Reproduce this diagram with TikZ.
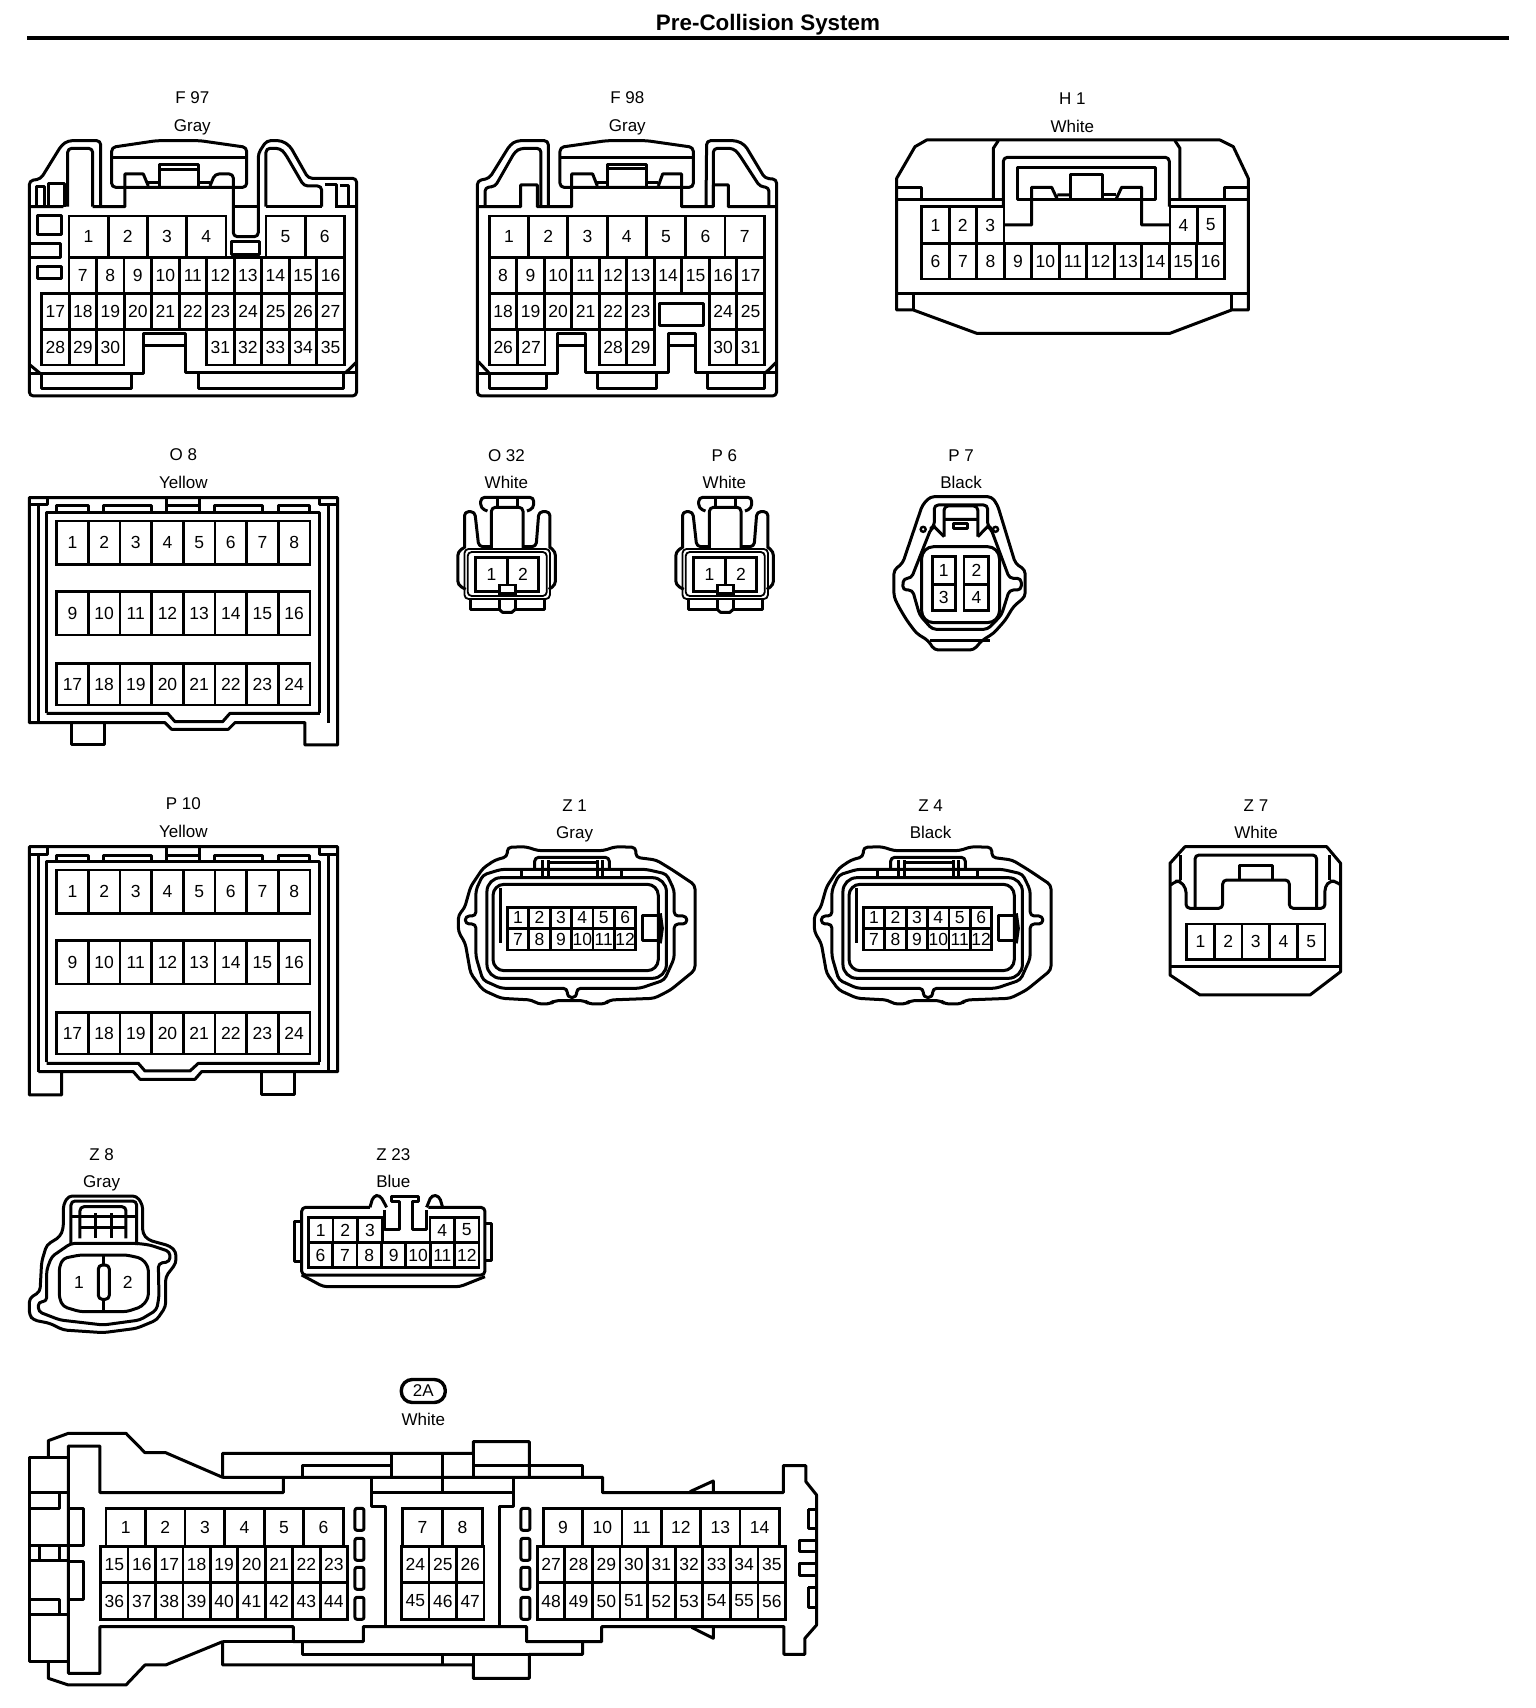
\documentclass[tikz,border=0pt]{standalone}
\usepackage{fontspec}
\setmainfont{Liberation Sans}
\usetikzlibrary{positioning}

\tikzset{
  conn/.style={line width=3pt,line join=round},
  soft/.style={conn,rounded corners=4pt},
  pinbox/.style={line width=2.8pt},
  pinno/.style={inner sep=0pt,font=\fontsize{17.5}{20}\selectfont},
  tag/.style={inner sep=0pt,text height=12.5pt,text depth=0pt,font=\fontsize{17}{20}\selectfont},
  crop/.style 2 args={shift={(#1,#2)},x=0.3333pt,y=-0.3333pt}
}

% row of pins: left, right, count, top, bottom, first number
\newcommand{\pinrow}[6]{%
  \pgfmathsetmacro\cellw{(#2-#1)/#3}%
  \foreach \k in {1,...,#3}{%
    \pgfmathtruncatemacro\pinnum{#6+\k-1}%
    \draw[pinbox] ({#1+(\k-1)*\cellw},#4) rectangle ({#1+\k*\cellw},#5);
    \node[pinno] (\cname-\pinnum) at ({#1+(\k-.5)*\cellw},{(#4+#5)/2}) {\pinnum};
  }%
}
\newcommand{\labels}[4]{%
  \node[tag] (\cname-id) at (#1,#2) {#3};
  \node[tag] (\cname-col) at (#1,#2+83) {#4};
}

% top and pins of the two yellow connectors
\newcommand{\yellowbody}{%
  \draw[conn] (88,225) -- (142,225) -- (142,205) (958,205) -- (958,225) -- (1013,225);
  \draw[conn] (115,225) -- (115,878) (985,225) -- (985,878);
  \draw[conn] (140,850) -- (140,248) -- (960,248) -- (960,850);
  \draw[conn] (170,248) -- (170,228) -- (265,228) -- (265,248);
  \draw[conn] (310,248) -- (310,228) -- (455,228) -- (455,248);
  \draw[conn] (500,205) -- (500,248) (598,205) -- (598,248) (500,228) -- (598,228);
  \draw[conn] (645,248) -- (645,228) -- (788,228) -- (788,248);
  \draw[conn] (835,248) -- (835,228) -- (930,228) -- (930,248);
  \pinrow{170}{930}{8}{273}{403}{1}
  \pinrow{170}{930}{8}{485}{615}{9}
  \pinrow{170}{930}{8}{700}{825}{17}
}

% small two pin connector
\newcommand{\twinbody}{%
  \draw[soft] (120,243) -- (103,235) -- (103,202) -- (237,202) -- (237,235) -- (220,243);
  \draw[conn] (145,205) -- (145,232) (195,205) -- (195,232);
  \draw[soft] (130,355) -- (130,232) -- (210,232) -- (210,355);
  \draw[soft] (62,355) -- (62,245) -- (88,245) -- (98,350) -- (130,350);
  \draw[soft] (278,355) -- (278,245) -- (250,245) -- (243,350) -- (210,350);
  \draw[soft,line width=1.8pt] (62,357) -- (278,357) -- (278,507) -- (62,507) -- cycle;
  \draw[soft,line width=1.8pt] (70,366) -- (270,366) -- (270,498) -- (70,498) -- cycle;
  \draw[soft] (62,352) -- (45,365) -- (45,465) -- (65,478);
  \draw[soft] (278,352) -- (292,365) -- (292,465) -- (275,478);
  \pinrow{90}{250}{2}{382}{485}{1}
  \draw[pinbox,fill=white] (150,465) rectangle (190,490);
  \draw[conn] (78,507) -- (78,538) -- (150,538) -- (150,507);
  \draw[conn] (190,507) -- (190,538) -- (265,538) -- (265,507);
  \draw[conn] (150,538) -- (158,547) -- (182,547) -- (190,538);
}

% oval twelve pin connector
\newcommand{\ovalbody}{%
  \draw[soft] (165,230) -- (165,202) -- (210,200) -- (240,212) -- (400,212) -- (430,200) -- (480,202) -- (480,232)
    -- (530,240) -- (570,270) -- (625,315) -- (625,570) -- (565,630) -- (525,655) -- (415,660) -- (405,672) -- (365,672)
    -- (355,662) -- (280,662) -- (270,672) -- (240,672) -- (225,660) -- (150,655) -- (105,630) -- (75,580) -- (62,490)
    -- (45,455) -- (45,405) -- (60,385) -- (75,320) -- (105,265) -- (135,240) -- cycle;
  \draw[soft] (62,408) -- (88,408) -- (88,330) -- (105,285) -- (150,268) -- (505,268) -- (555,282) -- (574,330) -- (574,408)
    -- (605,408) -- (605,432) -- (574,432) -- (574,535) -- (550,600) -- (490,625) -- (335,625) -- (335,652) -- (312,652)
    -- (312,625) -- (150,625) -- (105,600) -- (88,530) -- (88,432) -- (62,432) -- cycle;
  \draw[conn,rounded corners=14pt] (115,293) rectangle (555,595);
  \draw[conn,rounded corners=11pt] (130,313) rectangle (535,572);
  \draw[conn] (148,325) -- (148,490);
  \draw[conn] (200,293) -- (200,268) (445,293) -- (445,268);
  \draw[soft] (232,268) -- (232,232) -- (415,232) -- (415,268);
  \draw[conn] (250,293) -- (250,240) (265,293) -- (265,240) (385,293) -- (385,240) (398,293) -- (398,240);
  \draw[conn] (265,247) -- (385,247);
  \pinrow{165}{480}{6}{382}{445}{1}
  \pinrow{165}{480}{6}{445}{510}{7}
  \draw[conn] (497,408) rectangle (540,482);
  \draw[conn] (540,400) -- (545,445) -- (540,490);
}

\begin{document}
\begin{tikzpicture}[x=1pt,y=-1pt]
  \useasboundingbox (0,0) rectangle (1536,1708);

  \node[inner sep=0pt,font=\bfseries\fontsize{22.4}{26}\selectfont] (title) at (768,24.5) {Pre-Collision System};
  \coordinate (ruleL) at (27,38);
  \coordinate (ruleR) at (1509,38);
  \draw[line width=3.6pt] (ruleL) -- (ruleR);

  % F 97
  \begin{scope}[crop={0}{60}]
    \def\cname{F97}
    \labels{577}{113}{F 97}{Gray}
    \draw[soft] (302,440) -- (302,242) -- (205,242) -- (185,255) -- (122,357) -- (88,362) -- (88,1008) -- (1070,1008)
      -- (1070,355) -- (925,355) -- (870,258) -- (845,242) -- (800,242) -- (775,280) -- (775,530) -- (700,530) -- (700,342)
      -- (645,342) -- (630,378);
    \draw[soft] (278,440) -- (278,265) -- (203,265) -- (203,440);
    \draw[conn] (90,440) -- (190,440) (278,440) -- (375,440) -- (375,342) -- (430,342) -- (445,378);
    \draw[conn] (110,440) -- (110,380) -- (135,380) -- (135,440) (145,440) -- (145,372) -- (195,372) -- (195,440);
    \draw[soft] (335,382) -- (335,262) -- (470,242) -- (600,242) -- (740,262) -- (740,382) -- cycle;
    \draw[conn] (335,292) -- (740,292) (445,368) -- (480,368) (595,368) -- (630,368);
    \draw[conn] (480,382) -- (480,315) -- (595,315) -- (595,382) (480,328) -- (595,328);
    \draw[conn] (700,440) -- (775,440);
    \draw[soft] (798,440) -- (798,265) -- (840,265) -- (855,280) -- (912,378) -- (965,378) -- (965,440);
    \draw[conn] (798,440) -- (965,440) (1005,440) -- (1070,440);
    \draw[conn] (975,375) -- (1010,375) -- (1010,440) (1020,378) -- (1045,378) -- (1045,440);
    \draw[conn] (112,468) rectangle (185,525) (695,545) rectangle (780,583) (112,620) rectangle (185,655);
    \draw[conn] (90,550) -- (183,550) -- (183,592) -- (90,592);
    \pinrow{207}{678}{4}{468}{592}{1}
    \pinrow{798}{1033}{2}{468}{592}{5}
    \pinrow{207}{1033}{10}{592}{700}{7}
    \pinrow{125}{1033}{11}{700}{808}{17}
    \pinrow{125}{372}{3}{808}{915}{28}
    \pinrow{620}{1033}{5}{808}{915}{31}
    \draw[conn] (90,915) -- (120,940) (1035,940) -- (1068,908);
    \draw[conn] (88,940) -- (430,940) -- (430,820) -- (558,820) -- (558,938) -- (1070,938) (430,858) -- (558,858);
    \draw[conn] (125,940) -- (125,985) -- (395,985) -- (395,940) (595,940) -- (595,985) -- (1032,985) -- (1032,940);
  \end{scope}

  % F 98
  \begin{scope}[crop={450}{60}]
    \def\cname{F98}
    \labels{532}{113}{F 98}{Gray}
    \draw[soft] (295,440) -- (295,242) -- (200,242) -- (180,255) -- (118,355) -- (82,362) -- (82,1008) -- (980,1008)
      -- (980,358) -- (945,355) -- (885,255) -- (860,242) -- (770,242) -- (768,440);
    \draw[soft] (273,440) -- (273,265) -- (212,265) -- (195,275) -- (135,380) -- (105,382) -- (105,440);
    \draw[soft] (790,440) -- (790,265) -- (850,265) -- (865,280) -- (930,380) -- (957,382) -- (957,440);
    \draw[conn] (82,440) -- (212,440) -- (212,375) -- (262,375) -- (262,440) -- (365,440) -- (365,342) -- (428,342) -- (442,378);
    \draw[soft] (330,382) -- (330,262) -- (470,242) -- (590,242) -- (730,262) -- (730,382) -- cycle;
    \draw[conn] (330,292) -- (730,292) (442,368) -- (472,368) (590,368) -- (625,368);
    \draw[conn] (472,382) -- (472,315) -- (590,315) -- (590,382) (472,325) -- (590,325);
    \draw[conn] (625,378) -- (638,342) -- (695,342) -- (695,440) -- (790,440) -- (790,375) -- (835,375) -- (835,440) -- (980,440);
    \pinrow{118}{943}{7}{468}{592}{1}
    \pinrow{118}{943}{10}{592}{700}{8}
    \pinrow{118}{613}{6}{700}{808}{18}
    \pinrow{778}{943}{2}{700}{808}{24}
    \pinrow{118}{285}{2}{808}{915}{26}
    \pinrow{448}{613}{2}{808}{915}{28}
    \pinrow{778}{943}{2}{808}{915}{30}
    \draw[conn] (628,730) rectangle (762,798);
    \draw[conn] (85,905) -- (118,940) (945,940) -- (978,908);
    \draw[conn] (82,940) -- (322,940) -- (322,820) -- (408,820) -- (408,938) -- (655,938) -- (655,820) -- (738,820) -- (738,938) -- (980,938);
    \draw[conn] (322,858) -- (408,858) (655,858) -- (738,858);
    \draw[conn] (118,940) -- (118,985) -- (290,985) -- (290,940) (442,940) -- (442,985) -- (620,985) -- (620,940);
    \draw[conn] (772,940) -- (772,985) -- (945,985) -- (945,940);
  \end{scope}

  % H 1
  \begin{scope}[crop={880}{80}]
    \def\cname{H1}
    \labels{577}{55}{H 1}{White}
    \draw[conn] (50,690) -- (50,295) -- (105,200) -- (140,180) -- (1020,180) -- (1060,200) -- (1105,295) -- (1105,690)
      -- (1055,690) -- (870,760) -- (290,760) -- (100,690) -- cycle;
    \draw[conn] (50,640) -- (1105,640) (100,640) -- (100,690) (1055,640) -- (1055,690);
    \draw[conn] (50,358) -- (370,358) (870,358) -- (1105,358);
    \draw[conn] (50,322) -- (125,322) -- (125,358) (1035,358) -- (1035,322) -- (1105,322);
    \draw[conn] (340,358) -- (340,205) -- (355,182) (900,358) -- (900,205) -- (885,182);
    \draw[soft] (370,380) -- (370,232) -- (868,232) -- (868,380);
    \draw[conn] (412,358) -- (412,262) -- (828,262) -- (828,358) -- cycle;
    \draw[conn] (370,435) -- (455,435) -- (455,322) -- (515,322) -- (532,358) (532,345) -- (572,345);
    \draw[conn] (572,358) -- (572,285) -- (668,285) -- (668,358) (668,345) -- (708,345);
    \draw[conn] (708,358) -- (725,322) -- (785,322) -- (785,435) -- (868,435);
    \pinrow{125}{372}{3}{380}{490}{1}
    \pinrow{870}{1033}{2}{380}{490}{4}
    \pinrow{125}{1033}{11}{490}{597}{6}
  \end{scope}

  % O 8
  \begin{scope}[crop={0}{430}]
    \def\cname{O8}
    \labels{550}{73}{O 8}{Yellow}
    \draw[conn] (88,878) -- (88,203) -- (1013,203) -- (1013,945) -- (915,945) -- (915,878) -- (705,878) -- (685,898)
      -- (515,898) -- (495,878) -- cycle;
    \draw[conn] (215,878) -- (215,945) -- (315,945) -- (315,878);
    \draw[conn] (140,850) -- (503,850) -- (525,875) -- (668,875) -- (690,850) -- (960,850);
    \yellowbody
  \end{scope}

  % P 10
  \begin{scope}[crop={0}{779}]
    \def\cname{P10}
    \labels{550}{74}{P 10}{Yellow}
    \draw[conn] (115,878) -- (400,878) -- (420,901) -- (585,901) -- (605,878) -- (1013,878) -- (1013,203) -- (88,203)
      -- (88,948) -- (185,948) -- (185,878);
    \draw[conn] (785,878) -- (785,948) -- (885,948) -- (885,878);
    \draw[conn] (140,853) -- (415,853) -- (435,876) -- (570,876) -- (595,853) -- (960,853);
    \yellowbody
  \end{scope}

  % O 32 and P 6
  \begin{scope}[crop={440}{430},x=0.3954pt]
    \def\cname{O32}
    \labels{168}{75}{O 32}{White}
    \twinbody
  \end{scope}
  \begin{scope}[crop={658}{430},x=0.3954pt]
    \def\cname{P6}
    \labels{168}{75}{P 6}{White}
    \twinbody
  \end{scope}

  % P 7
  \begin{scope}[crop={440}{430},x=0.3954pt]
    \def\cname{P7}
    \labels{1318}{75}{P 7}{Black}
    \draw[soft] (1240,200) -- (1395,200) -- (1410,225) -- (1455,400) -- (1480,420) -- (1480,500) -- (1450,530) -- (1430,570)
      -- (1400,610) -- (1370,632) -- (1350,660) -- (1250,660) -- (1235,632) -- (1205,610) -- (1180,570) -- (1160,530)
      -- (1148,500) -- (1148,420) -- (1170,400) -- (1220,225) -- cycle;
    \draw[soft] (1172,445) -- (1192,445) -- (1242,295) -- (1250,290) -- (1250,225) -- (1385,225) -- (1385,290) -- (1393,295)
      -- (1440,445) -- (1470,445) -- (1470,480) -- (1440,480) -- (1420,555) -- (1385,598) -- (1245,598) -- (1213,555)
      -- (1195,480) -- (1170,480) -- cycle;
    \draw[conn,fill=white,rounded corners=12pt] (1218,350) rectangle (1415,578);
    \draw[soft] (1275,320) -- (1275,228) -- (1360,228) -- (1360,320);
    \draw[conn] (1250,290) -- (1275,320) (1385,290) -- (1360,320) (1275,268) -- (1360,268);
    \draw[conn] (1298,295) -- (1298,280) -- (1335,280) -- (1335,295) -- cycle;
    \draw[line width=2.4pt] (1222,298) circle (2.5pt) (1405,298) circle (2.5pt);
    \draw[conn] (1240,632) -- (1390,632);
    \pinrow{1245}{1303}{1}{380}{463}{1}
    \pinrow{1325}{1388}{1}{380}{463}{2}
    \pinrow{1245}{1303}{1}{463}{542}{3}
    \pinrow{1325}{1388}{1}{463}{542}{4}
  \end{scope}

  % Z 1 and Z 4
  \begin{scope}[crop={440}{780},x=0.408pt]
    \def\cname{Z1}
    \labels{330}{75}{Z 1}{Gray}
    \ovalbody
  \end{scope}
  \begin{scope}[crop={796}{780},x=0.408pt]
    \def\cname{Z4}
    \labels{330}{75}{Z 4}{Black}
    \ovalbody
  \end{scope}

  % Z 7
  \begin{scope}[crop={1150}{780}]
    \def\cname{Z7}
    \labels{318}{75}{Z 7}{White}
    \draw[conn] (60,565) -- (60,250) -- (105,200) -- (530,200) -- (572,250) -- (572,575) -- (480,645) -- (150,645) -- (60,585) -- cycle;
    \draw[conn] (60,560) -- (572,560) (92,225) -- (92,300) (540,225) -- (540,300);
    \draw[soft] (62,315) -- (78,303) -- (90,303) -- (108,325) -- (108,385) -- (218,385) -- (218,300) -- (418,300) -- (418,385) -- (525,385) -- (525,320) -- (540,303) -- (555,303) -- (572,315);
    \draw[soft] (135,385) -- (135,225) -- (500,225) -- (500,385);
    \draw[conn] (268,300) -- (268,255) -- (368,255) -- (368,300);
    \pinrow{110}{525}{5}{432}{538}{1}
  \end{scope}

  % Z 8
  \begin{scope}[crop={0}{1130}]
    \def\cname{Z8}
    \labels{305}{72}{Z 8}{Gray}
    \draw[soft] (190,225) -- (205,198) -- (410,198) -- (428,225) -- (428,310) -- (445,330) -- (510,348) -- (528,365) -- (528,400)
      -- (497,440) -- (497,530) -- (470,570) -- (410,595) -- (310,608) -- (190,600) -- (150,580) -- (100,570) -- (88,555) -- (88,505)
      -- (120,485) -- (125,395) -- (140,345) -- (180,320) -- (190,295) -- cycle;
    \draw[soft] (140,515) -- (115,515) -- (115,545) -- (180,570) -- (310,585) -- (420,570) -- (470,540) -- (477,500) -- (475,400)
      -- (510,395) -- (510,365) -- (450,345) -- (410,340) -- (213,340) -- (155,380) -- (140,420) -- cycle;
    \draw[soft] (213,345) -- (213,213) -- (410,213) -- (410,345);
    \draw[soft] (240,325) -- (240,230) -- (378,230) -- (378,325);
    \draw[conn] (213,258) -- (410,258) (240,292) -- (378,292) (287,250) -- (287,325) (335,250) -- (335,325);
    \draw[soft] (178,410) -- (190,385) -- (240,375) -- (380,375) -- (425,385) -- (445,410) -- (445,505) -- (425,530) -- (380,545)
      -- (240,545) -- (190,530) -- (178,505) -- cycle;
    \draw[soft] (295,405) rectangle (328,508);
    \draw[conn] (312,375) -- (312,405) (312,508) -- (312,545);
    \node[pinno] (Z8-1) at (237,457) {1};
    \node[pinno] (Z8-2) at (383,457) {2};

    % Z 23
    \def\cname{Z23}
    \labels{1180}{72}{Z 23}{Blue}
    \draw[soft] (1110,232) -- (905,232) -- (905,435) -- (1455,435) -- (1455,232) -- (1285,232);
    \draw[soft] (1110,232) -- (1120,198) -- (1140,195) -- (1160,232);
    \draw[soft] (1280,232) -- (1295,195) -- (1318,198) -- (1328,232);
    \draw[conn] (1155,240) -- (1155,298) -- (1198,298) -- (1198,213) -- (1175,213) -- (1175,198) -- (1255,198) -- (1255,213) -- (1238,213) -- (1238,298) -- (1280,298) -- (1280,240);
    \draw[soft] (905,435) -- (970,470) -- (1380,470) -- (1455,440);
    \draw[conn] (900,275) -- (885,275) -- (885,395) -- (900,395) (1458,280) -- (1475,280) -- (1475,392) -- (1458,392);
    \pinrow{925}{1147}{3}{262}{338}{1}
    \pinrow{1290}{1437}{2}{262}{338}{4}
    \pinrow{925}{1437}{7}{338}{412}{6}
  \end{scope}

  % 2A
  \begin{scope}[crop={0}{1370}]
    \def\cname{C2A}
    \node[inner sep=0pt,font=\fontsize{17}{20}\selectfont,draw,line width=3.4pt,rounded corners=11pt,minimum width=44pt,minimum height=23pt] (C2A-id) at (1270,63) {2A};
    \node[tag] (C2A-col) at (1270,148) {White};
    \draw[conn] (205,262) -- (88,262) -- (88,875) -- (205,875) (88,368) -- (205,368);
    \draw[conn] (88,415) -- (180,415) -- (180,372) (88,525) -- (205,525) (88,572) -- (205,572);
    \draw[conn] (118,530) -- (118,570) (180,530) -- (180,570);
    \draw[conn] (205,415) -- (252,415) -- (252,525) -- (205,525) (205,575) -- (252,575) -- (252,688) -- (205,688);
    \draw[conn] (88,690) -- (180,690) -- (180,735) (88,735) -- (205,735);
    \draw[conn] (145,262) -- (145,212) -- (205,190) -- (378,190) -- (435,248) -- (497,248) -- (668,322) -- (668,250) -- (1420,250)
      -- (1420,215) -- (1588,215) -- (1588,320);
    \draw[conn] (1420,250) -- (1420,320) (1175,320) -- (1175,250) (1328,250) -- (1328,365);
    \draw[conn] (908,320) -- (908,287) -- (1175,287) (1420,287) -- (1748,287) -- (1748,320);
    \draw[conn] (668,322) -- (1808,322) -- (1808,368) -- (2350,368) -- (2350,287) -- (2418,287) -- (2418,335) -- (2450,375)
      -- (2450,765) -- (2415,805) -- (2415,853) -- (2352,853) -- (2352,770) -- (1805,770) -- (1805,815) -- (1580,815) -- (1580,770)
      -- (1090,770) -- (1090,815) -- (880,815) -- (880,770) -- (300,770) -- (300,910) -- (205,910) -- (205,228) -- (300,228)
      -- (300,368) -- (850,368) -- (850,322);
    \draw[conn] (145,875) -- (145,925) -- (205,945) -- (378,945) -- (435,885) -- (497,885) -- (668,815) -- (668,885) -- (1420,885)
      -- (1420,925) -- (1588,925) -- (1588,853) -- (1748,853) -- (1748,815);
    \draw[conn] (668,815) -- (880,815) (908,815) -- (908,853) -- (1588,853) (1420,853) -- (1420,885) (1328,855) -- (1328,885);
    \draw[conn] (1115,322) -- (1115,410) -- (1158,410) -- (1158,770) (1115,368) -- (1540,368);
    \draw[conn] (1540,322) -- (1540,410) -- (1498,410) -- (1498,770);
    \foreach \xa in {1065,1563}{
      \foreach \ya in {415,505,592,682}{
        \draw[conn,rounded corners=2pt] (\xa,\ya) rectangle ++(27,66);
      }
    }
    \draw[conn] (2425,418) -- (2425,475) -- (2445,475) (2425,418) -- (2445,418);
    \draw[conn] (2445,512) -- (2400,512) -- (2400,545) -- (2445,545) (2445,582) -- (2400,582) -- (2400,618) -- (2445,618);
    \draw[conn] (2425,652) -- (2425,712) -- (2445,712) (2425,652) -- (2445,652);
    \draw[conn] (2070,365) -- (2140,333) -- (2140,368) (2075,772) -- (2140,805) -- (2140,770);
    \pinrow{318}{1030}{6}{415}{530}{1}
    \pinrow{1208}{1447}{2}{415}{530}{7}
    \pinrow{1630}{2338}{6}{415}{530}{9}
    \pinrow{302}{1043}{9}{530}{638}{15}
    \pinrow{1205}{1452}{3}{530}{638}{24}
    \pinrow{1612}{2357}{9}{530}{638}{27}
    \pinrow{302}{1043}{9}{638}{748}{36}
    \pinrow{1205}{1452}{3}{638}{748}{45}
    \pinrow{1612}{2357}{9}{638}{748}{48}
  \end{scope}
\end{tikzpicture}
\end{document}
